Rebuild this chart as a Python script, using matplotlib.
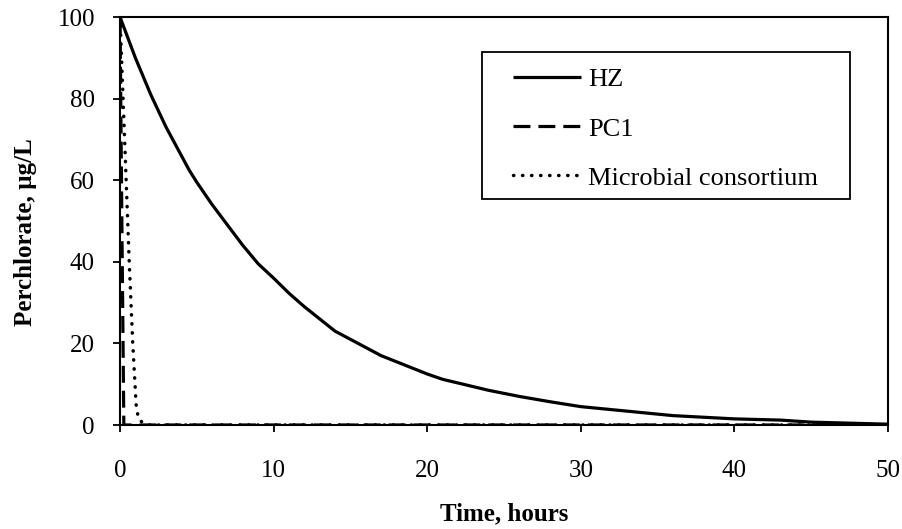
import matplotlib
matplotlib.use("Agg")
import matplotlib.pyplot as plt
from matplotlib.patches import Rectangle

# values
hz_time = [0, 0.5, 1, 1.5, 2, 2.5, 3, 3.5, 4, 4.5, 5, 6, 7, 8, 9, 10, 11, 12,
           13, 14, 15, 16, 17, 18, 19, 20, 21, 22, 24, 26, 28, 30, 33, 36,
           40, 43, 45, 48, 50]
hz_conc = [100, 95, 90, 85.5, 81, 77, 73, 69.5, 66, 62.5, 59.5, 54, 49, 44,
           39.5, 36, 32.3, 29, 26, 23, 21, 19, 17, 15.5, 14, 12.5, 11.2, 10.3,
           8.5, 7, 5.7, 4.5, 3.4, 2.3, 1.5, 1.2, 0.7, 0.4, 0.2]

pc1_time = [0, 0.12, 0.25, 50]
pc1_conc = [100, 50, 0, 0]

mic_time = [0, 0.2, 0.4, 0.6, 0.83, 1.05, 1.2, 1.5, 1.9, 50]
mic_conc = [100, 80, 60, 40, 20, 5, 1.5, 0.5, 0, 0]

plt.rcParams["font.family"] = ["Liberation Serif", "DejaVu Serif"]

fig = plt.figure(figsize=(9.02, 5.29), dpi=100)
ax = fig.add_axes([120 / 902, 1 - 425 / 529, 768 / 902, 408 / 529])

ax.plot(hz_time, hz_conc, color="black", lw=2.3, solid_capstyle="butt", label="HZ")
ax.plot(pc1_time, pc1_conc, color="black", lw=2.3, linestyle=(0, (5.3, 2.5)), label="PC1")
ax.plot(mic_time, mic_conc, color="black", lw=2.5, linestyle=(0, (0.1, 2.5)),
        dash_capstyle="round", label="Microbial consortium")

ax.set_xlim(0, 50)
ax.set_ylim(0, 100)
ax.set_xticks(range(0, 51, 10))
ax.set_yticks(range(0, 101, 20))
ax.tick_params(direction="out", length=5, width=1.3, labelsize=18)
ax.tick_params(axis="y", pad=13)
ax.tick_params(axis="x", pad=20)
for s in ax.spines.values():
    s.set_linewidth(1.5)

ax.set_xlabel("Time, hours", fontsize=18, fontweight="bold")
ax.set_ylabel("Perchlorate, µg/L", fontsize=18, fontweight="bold")
ax.xaxis.set_label_coords(0.5, -0.189)
ax.yaxis.set_label_coords(-0.108, 0.473)

leg = ax.legend(loc="upper left", bbox_to_anchor=(0.512, 0.875), frameon=False,
                fontsize=19, handlelength=2.55, handletextpad=0.3,
                labelspacing=0.97, borderpad=0, borderaxespad=0)
ax.add_patch(Rectangle((0.471, 0.554), 0.4795, 0.36, transform=ax.transAxes,
                       fill=False, edgecolor="black", lw=1.3))

fig.savefig("out.png", dpi=100)
